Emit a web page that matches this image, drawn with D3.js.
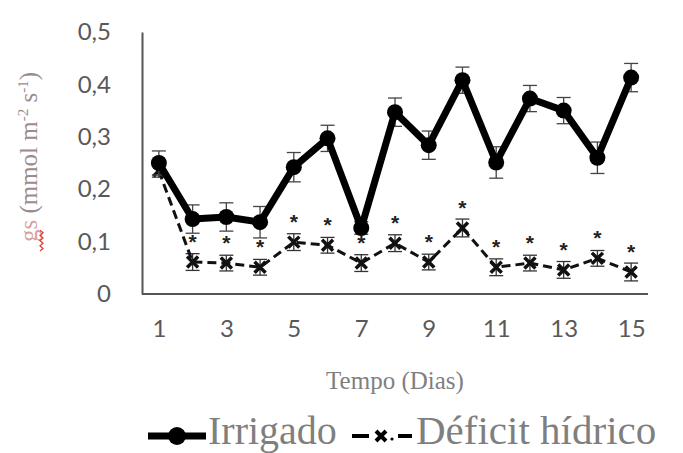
<!DOCTYPE html>
<html>
<head>
<meta charset="utf-8">
<script src="https://cdn.jsdelivr.net/npm/d3@7"></script>
<style>
  body { margin: 0; background: #fff; }
  svg { display: block; }
</style>
</head>
<body>
<script>
// dias de avaliação
const days = [1, 2, 3, 4, 5, 6, 7, 8, 9, 10, 11, 12, 13, 14, 15];
const irrigado = [0.25, 0.143, 0.147, 0.137, 0.242, 0.297, 0.126, 0.347, 0.284, 0.408, 0.251, 0.373, 0.35, 0.26, 0.413];
const irrigadoErr = [0.023, 0.027, 0.027, 0.03, 0.028, 0.025, 0.012, 0.027, 0.027, 0.025, 0.03, 0.025, 0.025, 0.03, 0.027];
const deficit = [0.235, 0.061, 0.059, 0.051, 0.099, 0.093, 0.059, 0.097, 0.061, 0.126, 0.051, 0.059, 0.046, 0.068, 0.042];
const deficitErr = [0.012, 0.016, 0.015, 0.015, 0.016, 0.015, 0.016, 0.016, 0.015, 0.017, 0.016, 0.015, 0.016, 0.015, 0.017];
const signifDays = [2, 3, 4, 5, 6, 7, 8, 9, 10, 11, 12, 13, 14, 15];
const xTicks = [1, 3, 5, 7, 9, 11, 13, 15];
const yTicks = [0, 0.1, 0.2, 0.3, 0.4, 0.5];

const W = 683, H = 453;
const svg = d3.select('body').append('svg')
  .attr('width', W)
  .attr('height', H);

const x = d3.scalePoint()
  .domain(days)
  .range([142, 648])
  .padding(0.5);

const y = d3.scaleLinear()
  .domain([0, 0.5])
  .range([294, 32]);

const axisColor = '#555';
const tickFont = 'Lato, "Open Sans", sans-serif';
const serif = '"Liberation Serif", "Times New Roman", serif';

// y axis
const yAxis = svg.append('g')
  .attr('transform', 'translate(142,0)')
  .call(d3.axisLeft(y).tickValues(yTicks).tickSize(0).tickPadding(31)
    .tickFormat(d => d3.format('.1f')(d).replace('.', ',').replace(/^0,0$/, '0')));
yAxis.select('.domain').attr('stroke', axisColor).attr('stroke-width', 2);
yAxis.selectAll('text')
  .attr('fill', '#595959')
  .style('font-family', tickFont)
  .style('font-size', '24px');

// x axis
const xAxis = svg.append('g')
  .attr('transform', 'translate(0,294)')
  .call(d3.axisBottom(x).tickValues(xTicks).tickSize(0).tickPadding(26).tickSizeOuter(0));
xAxis.select('.domain').attr('stroke', axisColor).attr('stroke-width', 2)
  .attr('d', 'M142,0H648');
xAxis.selectAll('text')
  .attr('fill', '#595959')
  .style('font-family', tickFont)
  .style('font-size', '24px');

// títulos dos eixos
svg.append('text')
  .attr('x', 395)
  .attr('y', 389)
  .attr('text-anchor', 'middle')
  .attr('fill', '#7f7f7f')
  .style('font-family', serif)
  .style('font-size', '25px')
  .text('Tempo (Dias)');

const yTitle = svg.append('text')
  .attr('transform', 'translate(37,157) rotate(-90)')
  .attr('text-anchor', 'middle')
  .attr('fill', '#9a8c8c')
  .style('font-family', serif)
  .style('font-size', '25px');
yTitle.append('tspan').attr('fill', '#d9a0a0').text('gs');
yTitle.append('tspan').text(' (mmol m');
yTitle.append('tspan').attr('font-size', '15px').attr('dy', -9).text('-2');
yTitle.append('tspan').attr('dy', 9).text(' s');
yTitle.append('tspan').attr('font-size', '15px').attr('dy', -9).text('-1');
yTitle.append('tspan').attr('dy', 9).text(')');

// sublinhado ondulado (corretor ortográfico) sob "gs"
const wave = d3.range(0, 9).map(i => [41, 251 - i * 2.6, i]);
svg.append('path')
  .attr('d', d3.line().x(d => d[0] + (d[2] % 2 ? 2 : -1)).y(d => d[1])(wave))
  .attr('fill', 'none')
  .attr('stroke', '#e04040')
  .attr('stroke-width', 1.3);

// barras de erro
function errorBars(vals, errs, color, cap) {
  const g = svg.append('g').attr('stroke', color).attr('stroke-width', 1.3);
  days.forEach((d, i) => {
    const cx = x(d), top = y(vals[i] + errs[i]), bot = y(vals[i] - errs[i]);
    g.append('line').attr('x1', cx).attr('x2', cx).attr('y1', top).attr('y2', bot);
    g.append('line').attr('x1', cx - cap).attr('x2', cx + cap).attr('y1', top).attr('y2', top);
    g.append('line').attr('x1', cx - cap).attr('x2', cx + cap).attr('y1', bot).attr('y2', bot);
  });
}

errorBars(deficit, deficitErr, '#333', 7);

// Déficit hídrico: linha tracejada
const line = d3.line().x((d, i) => x(days[i])).y(d => y(d));
svg.append('path')
  .datum(deficit)
  .attr('d', line)
  .attr('fill', 'none')
  .attr('stroke', '#111')
  .attr('stroke-width', 3)
  .attr('stroke-dasharray', '9,5');

const xMark = (cx, cy, s) => `M${cx - s},${cy - s}L${cx + s},${cy + s}M${cx + s},${cy - s}L${cx - s},${cy + s}`;
svg.append('g').selectAll('path')
  .data(deficit)
  .join('path')
  .attr('d', (d, i) => xMark(x(days[i]), y(d), 5.5))
  .attr('stroke', '#111')
  .attr('stroke-width', 3.5)
  .attr('fill', 'none');

// Irrigado
errorBars(irrigado, irrigadoErr, '#444', 7);
svg.append('path')
  .datum(irrigado)
  .attr('d', line)
  .attr('fill', 'none')
  .attr('stroke', '#000')
  .attr('stroke-width', 7)
  .attr('stroke-linejoin', 'round');
svg.append('g').selectAll('circle')
  .data(irrigado)
  .join('circle')
  .attr('cx', (d, i) => x(days[i]))
  .attr('cy', d => y(d))
  .attr('r', 8)
  .attr('fill', '#000');

// asteriscos de significância
svg.append('g').selectAll('text')
  .data(signifDays)
  .join('text')
  .attr('x', d => x(d))
  .attr('y', d => y(deficit[days.indexOf(d)]) - 13)
  .attr('text-anchor', 'middle')
  .attr('fill', '#222')
  .style('font-family', '"Liberation Sans", sans-serif')
  .style('font-size', '21px')
  .style('font-weight', 'bold')
  .text('*');

// legenda
const lg = svg.append('g');
lg.append('line').attr('x1', 148).attr('x2', 206).attr('y1', 436).attr('y2', 436)
  .attr('stroke', '#000').attr('stroke-width', 7);
lg.append('circle').attr('cx', 177).attr('cy', 436).attr('r', 9).attr('fill', '#000');
lg.append('text')
  .attr('x', 208).attr('y', 444)
  .attr('fill', '#7f7f7f')
  .style('font-family', serif)
  .style('font-size', '40px')
  .text('Irrigado');

lg.append('line').attr('x1', 352).attr('x2', 369).attr('y1', 436).attr('y2', 436)
  .attr('stroke', '#000').attr('stroke-width', 4);
lg.append('path').attr('d', xMark(381, 436, 5)).attr('stroke', '#000').attr('stroke-width', 4);
lg.append('circle').attr('cx', 392).attr('cy', 439).attr('r', 1.6).attr('fill', '#000');
lg.append('line').attr('x1', 398).attr('x2', 412).attr('y1', 436).attr('y2', 436)
  .attr('stroke', '#000').attr('stroke-width', 4);
lg.append('text')
  .attr('x', 416).attr('y', 444)
  .attr('fill', '#7f7f7f')
  .style('font-family', serif)
  .style('font-size', '41px')
  .text('Déficit hídrico');
</script>
</body>
</html>
